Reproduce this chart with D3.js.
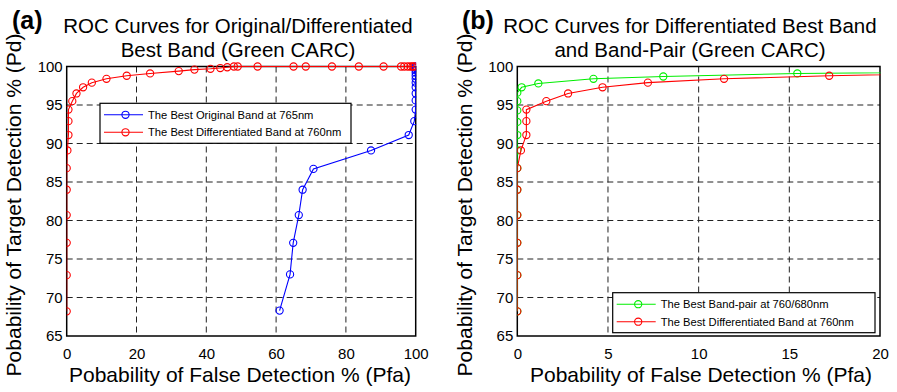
<!DOCTYPE html>
<html><head><meta charset="utf-8">
<script src="https://cdn.jsdelivr.net/npm/d3@7"></script>
<style>
html,body{margin:0;padding:0;background:#fff;}
text{font-family:"Liberation Sans",Arial,Helvetica,sans-serif;fill:#000;}
</style></head>
<body>
<svg id="c" width="897" height="392"></svg>
<script>
// ---- data ----
const yTicks = [65, 70, 75, 80, 85, 90, 95, 100];
const xTicksA = [0, 20, 40, 60, 80, 100];
const xTicksB = [0, 5, 10, 15, 20];

// Best Original Band at 765nm (panel a, blue)
const pfaBlue = [61.0, 64.0, 64.9, 66.5, 67.6, 70.7, 87.2, 98.0, 99.6, 100, 100, 100, 100, 100, 100, 100, 100, 100, 100, 100];
const pdBlue  = [68.3, 73.0, 77.1, 80.7, 84.0, 86.7, 89.1, 91.1, 92.9, 94.4, 95.6, 96.5, 97.3, 97.9, 98.4, 98.8, 99.2, 99.5, 99.8, 100];

// Best Differentiated Band at 760nm (panels a and b, red)
const pfaRed = [0, 0, 0, 0, 0, 0, 0.2, 0.5, 0.5, 0.5, 1.6, 2.8, 4.7, 7.2, 11.4, 17.2, 23.9, 32.1, 36.6, 41.2, 44.0, 46.0, 47.9, 49.0, 54.7, 65.0, 68.5, 76.0, 83.7, 90.8, 95.8, 96.7, 97.7, 98.5, 99.1, 99.6];
const pdRed  = [68.2, 72.9, 77.1, 80.7, 84.0, 86.8, 89.1, 91.1, 92.9, 94.4, 95.5, 96.5, 97.3, 97.9, 98.4, 98.8, 99.1, 99.4, 99.6, 99.7, 99.8, 99.9, 100, 100, 100, 100, 100, 100, 100, 100, 100, 100, 100, 100, 100, 100];

// Best Band-pair at 760/680nm (panel b, green)
const pfaGreen = [0, 0, 0, 0, 0, 0, 0, 0, 0, 0, 0, 0, 0.24, 1.16, 4.2, 8.05, 15.44, 30];
const pdGreen  = [68.2, 72.9, 77.1, 80.7, 84.0, 86.8, 89.1, 91.1, 92.8, 94.3, 95.5, 96.6, 97.3, 97.8, 98.4, 98.7, 99.1, 99.4];

const legendA = ["The Best Original Band at 765nm", "The Best Differentiated Band at 760nm"];
const legendB = ["The Best Band-pair at 760/680nm", "The Best Differentiated Band at 760nm"];
const titleA = ["ROC Curves for Original/Differentiated", "Best Band (Green CARC)"];
const titleB = ["ROC Curves for Differentiated Best Band", "and Band-Pair (Green CARC)"];
const xLabel = "Pobability of False Detection % (Pfa)";
const yLabel = "Pobability of Target Detection % (Pd)";

const zip = (xs, ys) => xs.map((x, i) => [x, ys[i]]);

const svg = d3.select("#c");
const FONT = '"Liberation Sans",Arial,Helvetica,sans-serif';

function panel(cfg) {
  const {left, right, top, bottom, xDomain, xTicks, series, legend, legendBox, title, titleX, tag, tagX, ylabX, xlabX, clipId} = cfg;
  const x = d3.scaleLinear().domain(xDomain).range([left, right]);
  const y = d3.scaleLinear().domain([65, 100]).range([bottom, top]);
  const g = svg.append("g");

  g.append("clipPath").attr("id", clipId).append("rect")
    .attr("x", left).attr("y", top - 5).attr("width", right - left + 0.5).attr("height", bottom - top + 10);

  // grid
  const grid = g.append("g").attr("stroke", "#222").attr("stroke-width", 1).attr("stroke-dasharray", "6,4");
  xTicks.slice(1, -1).forEach(t => grid.append("line").attr("x1", x(t)).attr("x2", x(t)).attr("y1", top).attr("y2", bottom));
  yTicks.slice(1, -1).forEach(t => grid.append("line").attr("y1", y(t)).attr("y2", y(t)).attr("x1", left).attr("x2", right));

  // axes via d3 axis (labels only, box drawn separately)
  const xa = g.append("g").attr("transform", `translate(0,${bottom})`)
    .call(d3.axisBottom(x).tickValues(xTicks).tickSize(0).tickPadding(12).tickFormat(d3.format("d")));
  const ya = g.append("g").attr("transform", `translate(${left},0)`)
    .call(d3.axisLeft(y).tickValues(yTicks).tickSize(0).tickPadding(4).tickFormat(d3.format("d")));
  [xa, ya].forEach(a => { a.select(".domain").remove(); a.selectAll("text").attr("font-size", 15).attr("font-family", FONT).attr("fill", "#000"); });

  // box
  g.append("rect").attr("x", left).attr("y", top).attr("width", right - left).attr("height", bottom - top)
    .attr("fill", "none").attr("stroke", "#000").attr("stroke-width", 1.5);

  // series
  const line = d3.line().x(d => x(d[0])).y(d => y(d[1]));
  const sg = g.append("g").attr("clip-path", `url(#${clipId})`);
  series.forEach(s => {
    const pts = zip(s.xs, s.ys);
    sg.append("path").datum(pts).attr("d", line).attr("fill", "none").attr("stroke", s.color).attr("stroke-width", 1.1);
    sg.selectAll(null).data(pts.filter(p => p[0] <= xDomain[1])).join("circle")
      .attr("cx", d => x(d[0])).attr("cy", d => y(d[1])).attr("r", 3.6)
      .attr("fill", "none").attr("stroke", s.color).attr("stroke-width", 1.1);
  });

  // legend
  const lg = g.append("g");
  lg.append("rect").attr("x", legendBox[0]).attr("y", legendBox[1]).attr("width", legendBox[2]).attr("height", 40)
    .attr("fill", "#fff").attr("stroke", "#000").attr("stroke-width", 1.2);
  series.forEach((s, i) => {
    const ly = legendBox[1] + 11.5 + i * 17.5;
    lg.append("line").attr("x1", legendBox[0] + 4).attr("x2", legendBox[0] + 43).attr("y1", ly).attr("y2", ly)
      .attr("stroke", s.color).attr("stroke-width", 1.1);
    lg.append("circle").attr("cx", legendBox[0] + 25.5).attr("cy", ly).attr("r", 3.6)
      .attr("fill", "none").attr("stroke", s.color).attr("stroke-width", 1.1);
    lg.append("text").attr("x", legendBox[0] + 48).attr("y", ly).attr("dy", "0.36em")
      .attr("font-size", 11.2).text(legend[i]);
  });

  // titles
  title.forEach((t, i) => g.append("text").attr("x", titleX).attr("y", 33 + i * 24)
    .attr("text-anchor", "middle").attr("font-size", 20.5).text(t));
  g.append("text").attr("x", tagX).attr("y", 29).attr("font-size", 25).attr("font-weight", "bold").text(tag);

  // axis labels
  g.append("text").attr("x", xlabX).attr("y", 382).attr("text-anchor", "middle").attr("font-size", 21).text(xLabel);
  g.append("text").attr("transform", `translate(${ylabX},205) rotate(-90)`)
    .attr("text-anchor", "middle").attr("font-size", 21).text(yLabel);
}

panel({
  left: 66.7, right: 415.7, top: 66.5, bottom: 336, xDomain: [0, 100], xTicks: xTicksA,
  series: [{xs: pfaBlue, ys: pdBlue, color: "#0000ff"}, {xs: pfaRed, ys: pdRed, color: "#ff0000"}],
  legend: legendA, legendBox: [100, 103.3, 251], title: titleA, titleX: 238, tag: "(a)", tagX: 12, ylabX: 21, xlabX: 240, clipId: "clipA"
});
panel({
  left: 517.3, right: 880, top: 66.5, bottom: 336, xDomain: [0, 20], xTicks: xTicksB,
  series: [{xs: pfaGreen, ys: pdGreen, color: "#00ee00"}, {xs: pfaRed, ys: pdRed, color: "#ff0000"}],
  legend: legendB, legendBox: [612.7, 292.7, 262.3], title: titleB, titleX: 690, tag: "(b)", tagX: 462, ylabX: 471.5, xlabX: 701, clipId: "clipB"
});
</script>
</body></html>
